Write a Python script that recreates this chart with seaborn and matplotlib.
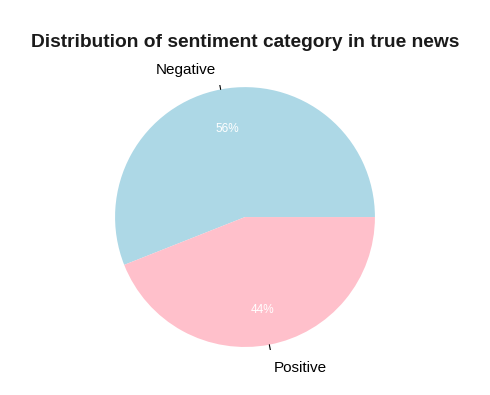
import numpy as np
import matplotlib
matplotlib.use("Agg")
import matplotlib.pyplot as plt
import seaborn as sns

categories = ["Negative", "Positive"]
shares = [56, 44]
colors = ["#ADD8E6", "#FFC0CB"]

sns.set_theme(style="white")
plt.rcParams['font.family'] = ['Liberation Sans', 'DejaVu Sans']

fig = plt.figure(figsize=(4.9, 3.95), dpi=100)
ax = fig.add_axes([0.2295, 0.115, 0.541, 0.671])

wedges, _ = ax.pie(shares, colors=colors, startangle=0, counterclock=True,
                   wedgeprops=dict(linewidth=0))
total = sum(shares)
for w, cat, v in zip(wedges, categories, shares):
    mid = np.deg2rad((w.theta1 + w.theta2) / 2)
    c, s = np.cos(mid), np.sin(mid)
    ax.text(0.71 * c, 0.71 * s - 0.02, f"{round(100 * v / total)}%",
            color="white", ha="center", va="center", fontsize=8.5)
    ax.plot([1.0 * c, 1.05 * c], [1.0 * s, 1.05 * s], color="black", lw=0.8)
    ha = "right" if c < 0 else "left"
    ax.text(1.2 * c, 1.165 * s - 0.015, cat, ha=ha, va="center", fontsize=11,
            color="black")
ax.set_aspect("equal")
ax.set_xlim(-1.02, 1.02)
ax.set_ylim(-1.02, 1.02)
ax.axis("off")

fig.suptitle("Distribution of sentiment category in true news",
             fontsize=13.8, fontweight="bold", y=0.915, color="#1a1a1a")
fig.savefig("out.png", dpi=100, facecolor="white")
